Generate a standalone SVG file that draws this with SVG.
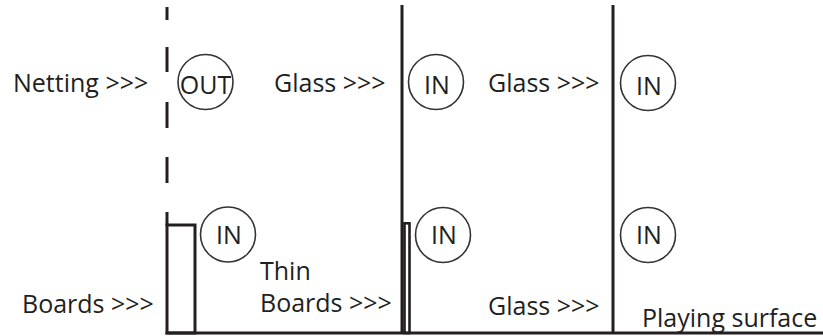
<svg xmlns="http://www.w3.org/2000/svg" width="823" height="336" viewBox="0 0 823 336">
<style>
  .bar { stroke: #231f20; stroke-width: 3; fill: none; }
  .board { stroke: #231f20; stroke-width: 2.6; fill: #ffffff; }
  .ring { stroke: #333333; stroke-width: 1.6; fill: none; }
  .lbl { font-family: "Open Sans", "Liberation Sans", sans-serif; font-size: 25px; fill: #231f20; }
  .mid { text-anchor: middle; }
</style>
<rect width="823" height="336" fill="#ffffff"/>
<g id="barriers">
  <g id="netting">
    <line class="bar" x1="167" y1="7" x2="167" y2="20"/>
    <line class="bar" x1="167" y1="47" x2="167" y2="72"/>
    <line class="bar" x1="167" y1="102" x2="167" y2="128"/>
    <line class="bar" x1="167" y1="157" x2="167" y2="183"/>
    <line class="bar" x1="167" y1="212" x2="167" y2="226"/>
  </g>
  <rect id="boards" class="bar" x="167" y="225" width="28" height="108"/>
  <line id="glass-1" class="bar" x1="402" y1="5" x2="402" y2="333"/>
  <rect id="thin-boards" class="board" x="404.5" y="223.3" width="5" height="109.7"/>
  <line id="glass-2" class="bar" x1="613" y1="5" x2="613" y2="333"/>
  <line id="surface" class="bar" x1="165.5" y1="333" x2="823" y2="333"/>
</g>
<g id="labels">
  <text class="lbl" x="13" y="92">Netting &gt;&gt;&gt;</text>
  <text class="lbl" x="274" y="92">Glass &gt;&gt;&gt;</text>
  <text class="lbl" x="488" y="92">Glass &gt;&gt;&gt;</text>
  <text class="lbl" x="22" y="313">Boards &gt;&gt;&gt;</text>
  <text class="lbl" x="260" y="280">Thin</text>
  <text class="lbl" x="260" y="312">Boards &gt;&gt;&gt;</text>
  <text class="lbl" x="488" y="315">Glass &gt;&gt;&gt;</text>
  <text class="lbl" x="642" y="327">Playing surface</text>
</g>
<g id="out-top">
  <circle class="ring" cx="205.5" cy="82" r="27.5"/>
  <text class="lbl mid" x="205.5" y="94">OUT</text>
</g>
<g id="in-top-2">
  <circle class="ring" cx="436" cy="82" r="27.5"/>
  <text class="lbl mid" x="437" y="94">IN</text>
</g>
<g id="in-top-3">
  <circle class="ring" cx="648" cy="83" r="27.5"/>
  <text class="lbl mid" x="649" y="95">IN</text>
</g>
<g id="in-low-1">
  <circle class="ring" cx="228" cy="234.5" r="27.5"/>
  <text class="lbl mid" x="229" y="244">IN</text>
</g>
<g id="in-low-2">
  <circle class="ring" cx="443" cy="235" r="27.5"/>
  <text class="lbl mid" x="444" y="244">IN</text>
</g>
<g id="in-low-3">
  <circle class="ring" cx="648" cy="235" r="27.5"/>
  <text class="lbl mid" x="649" y="244">IN</text>
</g>
</svg>
